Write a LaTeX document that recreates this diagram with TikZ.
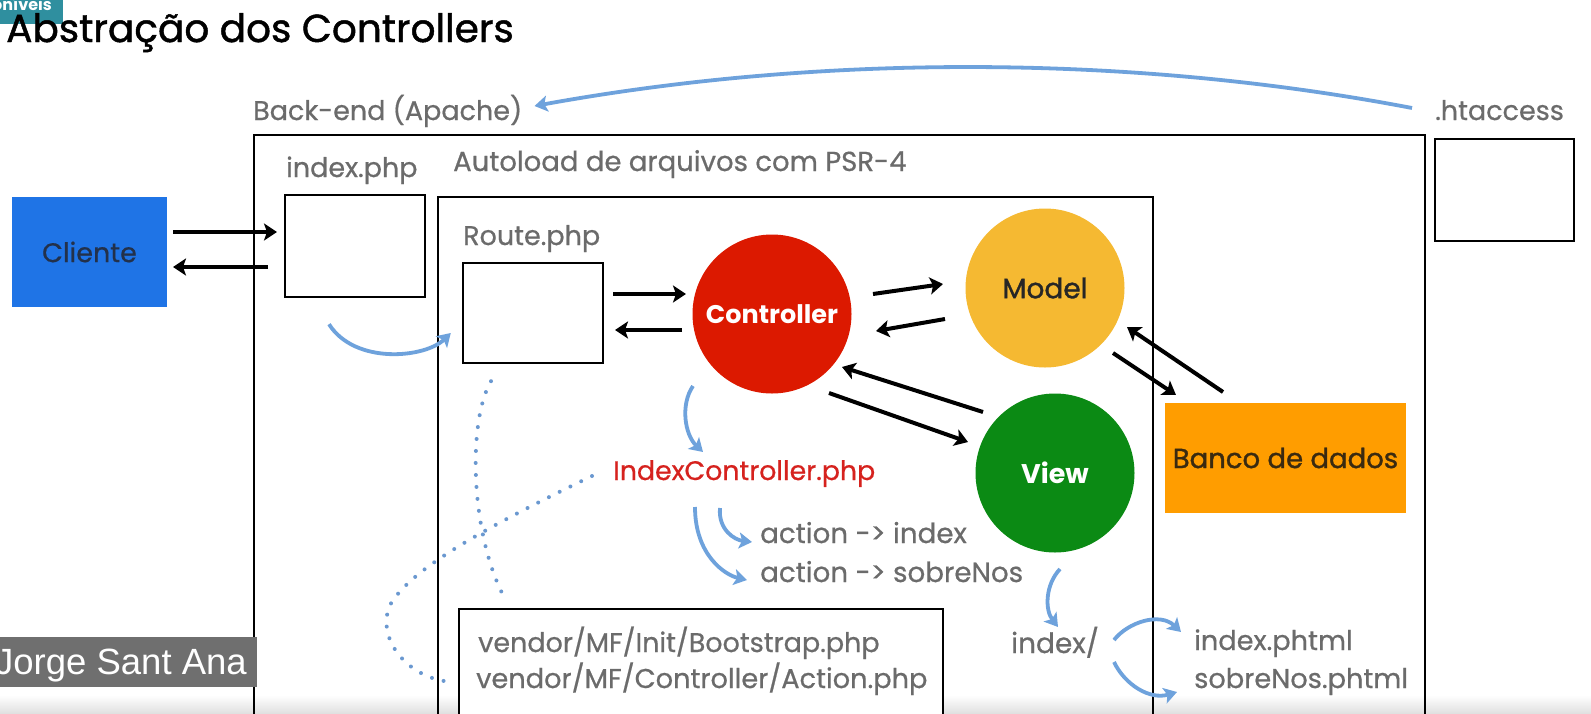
\documentclass[tikz,border=0pt]{standalone}
\usepackage{fontspec}
\setmainfont{Poppins}
\newfontfamily\arialf{Liberation Sans}
\newfontfamily\medf{Poppins}[FakeBold=0.6]
\newfontfamily\semif{Poppins}[FakeBold=1.2]
\usetikzlibrary{arrows.meta}
\definecolor{lblgray}{HTML}{6B6B6B}
\definecolor{clientblue}{HTML}{1F74E6}
\definecolor{clienttxt}{HTML}{23314A}
\definecolor{ctrlred}{HTML}{DC1900}
\definecolor{modelyel}{HTML}{F5B932}
\definecolor{viewgreen}{HTML}{0B8A14}
\definecolor{bancoorange}{HTML}{FF9D00}
\definecolor{bancotxt}{HTML}{3A2A10}
\definecolor{idxred}{HTML}{D6221E}
\definecolor{arrowblue}{HTML}{6EA2DC}
\definecolor{dotblue}{HTML}{6A98D0}
\definecolor{badgeteal}{HTML}{2F8F9F}
\definecolor{jgray}{HTML}{6F6F6F}
\tikzset{
  lbl/.style={anchor=base west, inner sep=0, text=lblgray, font=\medf\fontsize{27}{29}\selectfont},
  framebox/.style={draw=black, line width=2pt, inner sep=0, anchor=north west},
  wbox/.style={draw=black, line width=2.4pt, fill=white, inner sep=0},
  blk/.style={draw=black, line width=4pt, -{Stealth[length=13pt,width=17pt,inset=3pt]}},
  blu/.style={draw=arrowblue, line width=3.8pt, -{Stealth[length=13pt,width=16pt,inset=3pt]}},
  dots/.style={draw=dotblue, line width=4pt, line cap=round, dash pattern=on 0pt off 12pt},
  ball/.style={circle, inner sep=0, minimum size=159pt},
}
\begin{document}
\begin{tikzpicture}[x=1pt,y=-1pt]
\useasboundingbox (0,0) rectangle (1591,713);
\clip (0,0) rectangle (1591,713);
\fill[white] (0,0) rectangle (1591,713);
\shade[top color=white, bottom color=black!12] (0,695) rectangle (1591,713);

% badge
\node[fill=badgeteal, anchor=north west, minimum width=63pt, minimum height=24pt, inner sep=0] (badge) at (0,0) {};
\node[anchor=base east, inner sep=0, text=white, font=\bfseries\fontsize{16}{18}\selectfont] (badgetxt) at (52,10) {oníveis};

% title
\node[anchor=base west, inner sep=0, font=\semif\fontsize{39}{42}\selectfont] (title) at (6,42) {Abstração dos Controllers};

% frames
\node[framebox, minimum width=1171pt, minimum height=640pt] (backend) at (253,134) {};
\node[framebox, minimum width=715pt, minimum height=580pt] (autoload) at (437,196) {};
\node[framebox, fill=white, minimum width=484pt, minimum height=160pt] (vendor) at (458,608) {};

% labels
\node[lbl] (belbl) at (253,120) {Back-end (Apache)};
\node[lbl] (htalbl) at (1435,120) {.htaccess};
\node[lbl] (idxlbl) at (286,177) {index.php};
\node[lbl, font=\medf\fontsize{27.5}{29}\selectfont] (autolbl) at (453,171) {Autoload de arquivos com PSR-4};
\node[lbl] (routelbl) at (463,245) {Route.php};

% boxes
\node[wbox, minimum width=139pt, minimum height=102pt] (hta) at (1504.5,190) {};
\node[wbox, minimum width=140pt, minimum height=102pt] (index) at (355,246) {};
\node[wbox, minimum width=140pt, minimum height=100pt] (route) at (533,313) {};
\node[fill=clientblue, inner sep=0, minimum width=155pt, minimum height=110pt, text=clienttxt, font=\medf\fontsize{27}{29}\selectfont] (cliente) at (89.5,252) {Cliente};
\node[fill=bancoorange, inner sep=0, minimum width=241pt, minimum height=110pt, text=bancotxt, font=\semif\fontsize{27.5}{30}\selectfont] (banco) at (1285.5,458) {Banco de dados};

% circles
\node[ball, fill=ctrlred, text=white, font=\bfseries\fontsize{25.5}{27}\selectfont] (ctrl) at (772,314) {Controller};
\node[ball, fill=modelyel, text=black!85, font=\semif\fontsize{28}{30}\selectfont] (model) at (1045,288) {Model};
\node[ball, fill=viewgreen, text=white, font=\bfseries\fontsize{27}{29}\selectfont] (view) at (1055,473) {View};

% text items
\node[anchor=base west, inner sep=0, text=idxred, font=\medf\fontsize{26.8}{30}\selectfont] (idxc) at (613,480) {IndexController.php};
\node[lbl, font=\medf\fontsize{27.7}{30}\selectfont] (act1) at (760,543) {action -> index};
\node[lbl, font=\medf\fontsize{27.7}{30}\selectfont] (act2) at (760,582) {action -> sobreNos};
\node[lbl, font=\medf\fontsize{28}{30}\selectfont] (idxdir) at (1011,653) {index/};
\node[lbl, font=\medf\fontsize{27.2}{30}\selectfont] (ph1) at (1194,650) {index.phtml};
\node[lbl, font=\medf\fontsize{27.2}{30}\selectfont] (ph2) at (1194,688) {sobreNos.phtml};
\node[lbl, font=\medf\fontsize{27}{30}\selectfont] (vend1) at (478,652) {vendor/MF/Init/Bootstrap.php};
\node[lbl, font=\medf\fontsize{27.2}{30}\selectfont] (vend2) at (476,688) {vendor/MF/Controller/Action.php};

% black arrows
\draw[blk] ([shift={(83.5,-20)}]cliente.center) -- ([shift={(-78,-14)}]index.center);
\draw[blk] ([shift={(-87,21)}]index.center) -- ([shift={(83.5,15)}]cliente.center);
\draw[blk] ([shift={(80,-19)}]route.center) -- ([shift={(-86,-20)}]ctrl.center);
\draw[blk] ([shift={(-90,16)}]ctrl.center) -- ([shift={(82,17)}]route.center);
\draw[blk] ([shift={(101,-20)}]ctrl.center) -- ([shift={(-102,-4)}]model.center);
\draw[blk] ([shift={(-100,31)}]model.center) -- ([shift={(104,17)}]ctrl.center);
\draw[blk] ([shift={(-72,-61)}]view.center) -- ([shift={(70,53)}]ctrl.center);
\draw[blk] ([shift={(57,79)}]ctrl.center) -- ([shift={(-87,-31)}]view.center);
\draw[blk] ([shift={(68,65)}]model.center) -- ([shift={(-109.5,-63)}]banco.center);
\draw[blk] ([shift={(-62.5,-66)}]banco.center) -- ([shift={(82,39)}]model.center);

% blue arrows
\draw[blu] ([shift={(-23,-12)}]htalbl.base west) .. controls (1130,54) and (820,54) .. ([shift={(12,-14)}]belbl.base east);
\draw[blu] ([shift={(-26,26)}]index.south) .. controls (355,365) and (425,358) .. ([shift={(-11,20)}]route.west);
\draw[blu] ([shift={(-79,72)}]ctrl.center) .. controls (680,405) and (685,435) .. ([shift={(90,-28)}]idxc.base west);
\draw[blu] ([shift={(107,28)}]idxc.base west) .. controls (718,530) and (735,540) .. ([shift={(-8,-1)}]act1.base west);
\draw[blu] ([shift={(82,27)}]idxc.base west) .. controls (695,555) and (725,575) .. ([shift={(-13,-2)}]act2.base west);
\draw[blu] ([shift={(5,96)}]view.center) .. controls (1045,585) and (1045,610) .. ([shift={(47,-26)}]idxdir.base west);
\draw[blu] ([shift={(103,-13)}]idxdir.base west) .. controls (1128,622) and (1160,612) .. ([shift={(-13,-18)}]ph1.base west);
\draw[blu] ([shift={(103,9)}]idxdir.base west) .. controls (1125,685) and (1150,700) .. ([shift={(-17,4)}]ph2.base west);

% dotted
\draw[dots] ([shift={(-42,17)}]route.south) .. controls (468,420) and (470,530) .. ([shift={(-198,-13)}]vendor.north);
\draw[dots] ([shift={(-21,-4)}]idxc.base west) .. controls (480,530) and (410,570) .. (390,605) .. controls (375,640) and (410,680) .. ([shift={(-23,-6)}]vend2.base west);

% overlay name
\node[fill=jgray, anchor=north west, minimum width=257pt, minimum height=50pt, inner sep=0] (jbox) at (0,637) {};
\node[anchor=base east, inner sep=0, text=white, font=\arialf\fontsize{36.5}{38}\selectfont] (jorge) at (247,674) {Jorge Sant Ana};
\end{tikzpicture}
\end{document}
